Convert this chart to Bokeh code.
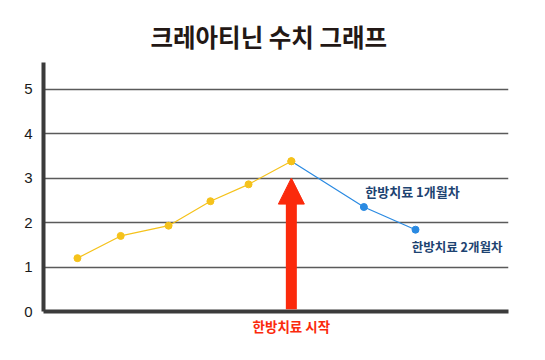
from bokeh.plotting import figure
from bokeh.models import Label, Arrow, NormalHead, FixedTicker, Range1d
from bokeh.embed import file_html
from bokeh.resources import INLINE

# Data (x positions along the time axis, creatinine values)
before_x = [7.3, 16.6, 26.9, 35.9, 44.1, 53.3]
before_y = [1.20, 1.70, 1.93, 2.48, 2.86, 3.38]
after_x = [53.3, 68.9, 80.0]
after_y = [3.38, 2.35, 1.84]
y_ticks = [0, 1, 2, 3, 4, 5]
title_text = "크레아티닌 수치 그래프"
start_label = "한방치료 시작"
month_labels = ["한방치료 1개월차", "한방치료 2개월차"]
treatment_start_x = 53.3
arrow_top = 3.0

KR = "Noto Sans CJK KR"

p = figure(width=537, height=352, output_backend="svg", toolbar_location=None,
           x_range=Range1d(0, 100), y_range=Range1d(0, 5.6),
           min_border_left=43, min_border_right=29, min_border_top=62, min_border_bottom=41,
           title=title_text)
p.outline_line_color = None
p.background_fill_color = "white"
p.border_fill_color = "white"

p.title.text_font = KR
p.title.text_font_style = "bold"
p.title.text_font_size = "24.5px"
p.title.text_color = "#231815"
p.title.align = "left"
p.title.offset = 107
p.title.vertical_align = "top"
p.title.standoff = 14

# axes
p.yaxis.ticker = FixedTicker(ticks=y_ticks)
p.yaxis.axis_line_width = 4
p.yaxis.axis_line_color = "#3b3b3b"
p.yaxis.major_tick_line_color = None
p.yaxis.minor_tick_line_color = None
p.yaxis.major_tick_out = 0
p.yaxis.major_label_standoff = 11
p.yaxis.major_label_text_font = "Liberation Sans"
p.yaxis.major_label_text_font_size = "15px"
p.yaxis.major_label_text_color = "#1a1a1a"

red = "#fb2a0c"
p.xaxis.ticker = FixedTicker(ticks=[treatment_start_x])
p.xaxis.major_label_overrides = {treatment_start_x: start_label}
p.xaxis.axis_line_width = 4
p.xaxis.axis_line_color = "#3b3b3b"
p.xaxis.major_tick_line_color = None
p.xaxis.minor_tick_line_color = None
p.xaxis.major_tick_out = 0
p.xaxis.major_label_standoff = 4
p.xaxis.major_label_text_font = KR
p.xaxis.major_label_text_font_style = "bold"
p.xaxis.major_label_text_font_size = "13.5px"
p.xaxis.major_label_text_color = red

p.xgrid.grid_line_color = None
p.ygrid.ticker = FixedTicker(ticks=y_ticks[1:])
p.ygrid.grid_line_color = "#5a5a5a"
p.ygrid.grid_line_width = 1.5

yellow = "#f5c21b"
blue = "#2a8ae2"

p.line(before_x, before_y, line_color=yellow, line_width=1.2)
p.scatter(before_x, before_y, size=7, fill_color=yellow, line_color=yellow)
p.line(after_x, after_y, line_color=blue, line_width=1.2)
p.scatter(after_x[1:], after_y[1:], size=7, fill_color=blue, line_color=blue)
p.scatter(before_x[-1:], before_y[-1:], size=7, fill_color=yellow, line_color=yellow)

p.add_layout(Arrow(end=NormalHead(size=26, fill_color=red, line_color=red, line_width=1),
                   x_start=treatment_start_x, y_start=0.05,
                   x_end=treatment_start_x, y_end=arrow_top,
                   line_color=red, line_width=11))

navy = "#1d4371"
p.add_layout(Label(x=69.2, y=2.69, text=month_labels[0], text_font=KR, text_font_style="bold",
                   text_font_size="13px", text_color=navy, text_baseline="middle"))
p.add_layout(Label(x=79.2, y=1.47, text=month_labels[1], text_font=KR, text_font_style="bold",
                   text_font_size="12.5px", text_color=navy, text_baseline="middle"))

open("out.html", "w").write(file_html(p, INLINE))
